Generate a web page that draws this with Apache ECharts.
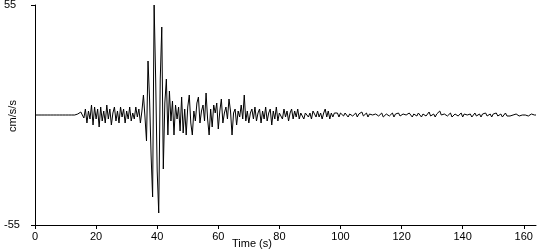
<!DOCTYPE html>
<html>
<head>
<meta charset="utf-8">
<script src="https://cdn.jsdelivr.net/npm/echarts@6/dist/echarts.min.js"></script>
<style>
html,body{margin:0;padding:0;background:#fff;}
#chart{width:550px;height:250px;}
</style>
</head>
<body>
<div id="chart"></div>
<script>
// Sample spacing (s) and start time (s) of each recorded segment
const sampleStep = 0.5;
const segmentStarts = [0, 14, 35, 44, 100.5];

// Acceleration (cm/s/s)
const accelPre = [0,0,0,0,0,0,0,0,0,0,0,0,0,0,0,0,0,0,0,0,0,0,0,0,0,0,0,0];
const accelP = [0.5,1.5,1.5,0.5,-1.5,
  3,-4,2,-2,5,-5,4,-2,3,-6,4,-3,2,-4,5,-2,3,-5,1,4,-3,2,-4,4,-1,3,-4,2,-2,4,-3,1,-2,4,-1,3,-4];
const accelStrong = [2,10,-1,-13,27,8,-20,-41,55,18,-28,-49,18,44,-27,6,18,-10];
const accelCoda = [12,-3,7,-10,5,-2,4,-8,9,-9,
  3,-10,4,10,-4,-10,2,-3,6,9,
  -4,2,5,-3,11,-2,-10,3,-6,5,
  1,6,-7,2,8,-4,1,4,-2,8,
  2,-10,1,3,-5,2,-1,5,-2,10,
  -3,2,-4,1,3,-2,4,-3,1,3,
  -4,2,-2,4,-3,1,3,-5,2,-2,
  4,-3,1,2,-2,3,-1,2,-3,1,
  3,-2,2,-1,3,-2,1,2,-2,1,
  2,-1,1,-2,2,1,-1,2,-1,1,
  -2,1,3,-1,2,-2,1,-1,1,0,
  1,-1,1];
const accelTail = [0.5,-0.5,1,0,-1,0.5,1,-0.5,0,1,-1,0.5,0,1.5,-0.5,0,1,-1,0.5,1,0,-1,0.5,1,-0.5,0,1,-1,0,0.5,1,-0.5,
  0,1,-1,0.5,0,1,-0.5,-1,0.5,1,0,-0.5,1,0,-1,0.5,0.5,-0.5,1,0,-1,0.5,1,-0.5,0,1.5,-0.5,0,0.5,-1,0.5,1,
  2,0,-1,0.5,1,-0.5,0,1,-1,0,0.5,1,-0.5,0,1,-1,0.5,1.5,0,-0.5,0.5,-1,0,1,-0.5,0,0.5,-1,0.5,0,1,-0.5,
  0,0.5,-1,0.5,0,1,-0.5,0,0.5,-1,0,1,-0.5,0,-0.5,0.5,0,-1,0.5,0,-0.5,0.5,0,-0.5,0,0.5,-0.5,0,0.5,-0.5,0,0];

const xTickLabels = [0,20,40,60,80,100,120,140,160];
const yTickLabels = [-55,55];
const xAxisMax = 164;

const segments = [accelPre, accelP, accelStrong, accelCoda, accelTail];
const seriesData = [];
segments.forEach(function(seg, i){
  seg.forEach(function(v, k){
    seriesData.push([segmentStarts[i] + k*sampleStep, v]);
  });
});

const font = 'Liberation Sans, Arial, sans-serif';
const chart = echarts.init(document.getElementById('chart'), null, {renderer:'canvas'});
chart.setOption({
  animation: false,
  backgroundColor: '#fff',
  grid: {left: 35, right: 14, top: 5, bottom: 25, containLabel: false, outerBoundsMode: 'none'},
  xAxis: {
    type: 'value', min: 0, max: xAxisMax, interval: 20,
    axisLine: {show: true, onZero: false, lineStyle: {color: '#000', width: 1}},
    axisTick: {show: true, length: 4, lineStyle: {color: '#000'}, customValues: xTickLabels},
    axisLabel: {color: '#000', fontFamily: font, fontSize: 11, margin: 6, customValues: xTickLabels},
    splitLine: {show: false}
  },
  yAxis: {
    type: 'value', min: -55, max: 55, interval: 55,
    axisLine: {show: true, onZero: false, lineStyle: {color: '#000', width: 1}},
    axisTick: {show: true, length: 4, lineStyle: {color: '#000'}, customValues: yTickLabels},
    axisLabel: {color: '#000', fontFamily: font, fontSize: 11, margin: 31, align: 'left', customValues: yTickLabels},
    splitLine: {show: false}
  },
  graphic: [{
    type: 'text', left: 232, top: 238,
    style: {text: 'Time (s)', fill: '#000', font: '11px ' + font}
  }, {
    type: 'text', x: 13, y: 116, rotation: Math.PI / 2,
    style: {text: 'cm/s/s', fill: '#000', font: '11px ' + font, align: 'center', verticalAlign: 'middle'}
  }],
  series: [{
    type: 'line', data: seriesData, showSymbol: false, symbol: 'none',
    lineStyle: {color: '#000', width: 1}, silent: true
  }]
});
</script>
</body>
</html>
